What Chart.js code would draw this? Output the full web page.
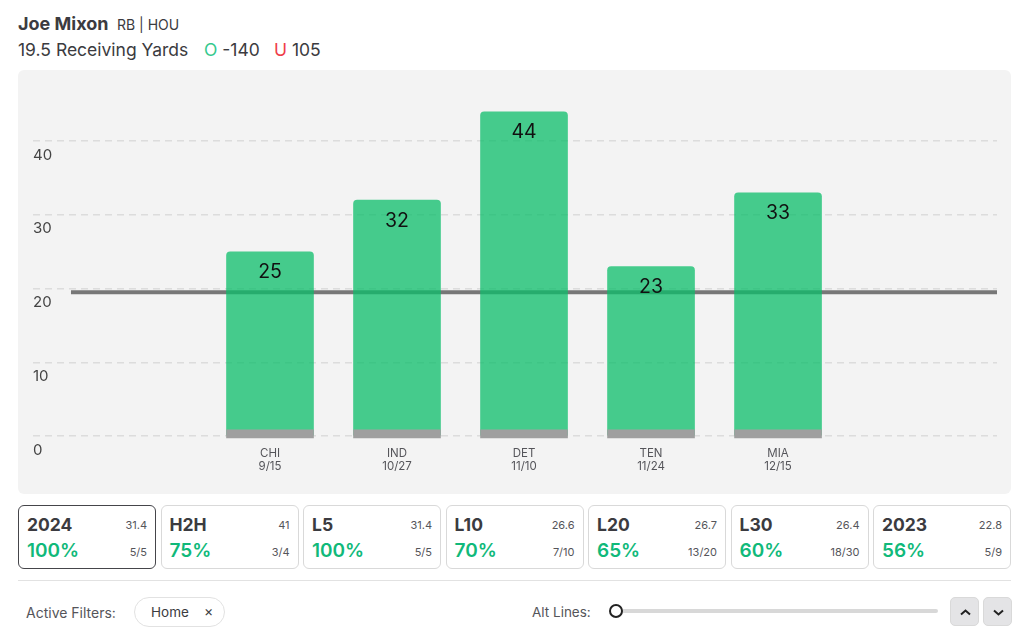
<!DOCTYPE html>
<html>
<head>
<meta charset="utf-8">
<script src="https://cdn.jsdelivr.net/npm/chart.js@4"></script>
<style>
  * { box-sizing: border-box; }
  html, body { margin: 0; height: 100%; background: #fff; overflow: hidden; }
  body { position: relative; width: 1024px; height: 633px; font-family: "Inter", sans-serif; color: #3b3b40; }
  .abs { position: absolute; white-space: nowrap; }
  #panel { position: absolute; left: 18px; top: 70px; width: 993px; height: 424px; background: #f3f3f3; border-radius: 6px; }
  #panel canvas { position: absolute; left: 0; top: 0; }
  #cards { position: absolute; left: 18px; top: 505px; width: 993px; display: flex; gap: 4.5px; }
  .card { position: relative; flex: 1; height: 64px; background: #fff; border: 1.5px solid #d9d9d9; border-radius: 6px; }
  .card.active { border-color: #45454a; }
  .card div { position: absolute; white-space: nowrap; }
  .name { left: 8px; top: 8px; font-size: 17.5px; font-weight: 700; }
  .avg { right: 8px; top: 12px; font-size: 11px; color: #55555a; }
  .pct { left: 8px; top: 33px; font-size: 19px; font-weight: 600; color: #10b97a; }
  .rec { right: 8px; top: 39px; font-size: 11px; color: #55555a; }
  .btn { position: absolute; top: 597px; width: 29px; height: 29px; background: #e4e4e6; border: 1px solid #d9d9d9; border-radius: 5px; }
  .btn svg { position: absolute; left: 8px; top: 9px; }
</style>
</head>
<body>
<div class="abs" style="left:18px;top:13px;font-size:18px;font-weight:700">Joe Mixon</div>
<div class="abs" style="left:117px;top:16px;font-size:14px">RB | HOU</div>
<div class="abs" style="left:18px;top:39px;font-size:17.5px">19.5 Receiving Yards</div>
<div class="abs" style="left:204px;top:39px;font-size:17.5px"><span style="color:#34c98e">O</span> -140</div>
<div class="abs" style="left:274px;top:39px;font-size:17.5px"><span style="color:#ef3e4a">U</span> 105</div>

<div id="panel"><canvas id="chart" width="993" height="424"></canvas></div>
<div id="cards"></div>

<div class="abs" style="left:18px;top:580px;width:993px;height:1px;background:#e2e2e2"></div>
<div class="abs" style="left:26px;top:604px;font-size:14px;color:#55555a">Active Filters:</div>
<div class="abs" style="left:134px;top:597px;width:91px;height:30px;border:1.5px solid #e2e2e2;border-radius:15px"></div>
<div class="abs" style="left:151px;top:604px;font-size:13.5px">Home</div>
<div class="abs" style="left:204px;top:602px;font-size:14px">×</div>
<div class="abs" style="left:532px;top:604px;font-size:13.5px;color:#55555a">Alt Lines:</div>
<div class="abs" style="left:616px;top:609px;width:322px;height:4px;background:#d8d8d8;border-radius:2px"></div>
<div class="abs" style="left:609px;top:604px;width:14px;height:14px;background:#fff;border:2.5px solid #222;border-radius:50%"></div>
<div class="btn" style="left:950px"><svg width="13" height="11" viewBox="0 0 13 11"><path d="M2 7.5 L6.5 3.5 L11 7.5" fill="none" stroke="#222" stroke-width="2"/></svg></div>
<div class="btn" style="left:983px"><svg width="13" height="11" viewBox="0 0 13 11"><path d="M2 3.5 L6.5 7.5 L11 3.5" fill="none" stroke="#222" stroke-width="2"/></svg></div>

<script>
const teams = ["CHI", "IND", "DET", "TEN", "MIA"];
const dates = ["9/15", "10/27", "11/10", "11/24", "12/15"];
const yards = [25, 32, 44, 23, 33];
const yTicks = [0, 10, 20, 30, 40];
const propLine = 19.5;

const cardNames = ["2024", "H2H", "L5", "L10", "L20", "L30", "2023"];
const cardAvgs = ["31.4", "41", "31.4", "26.6", "26.7", "26.4", "22.8"];
const cardPcts = ["100%", "75%", "100%", "70%", "65%", "60%", "56%"];
const cardRecs = ["5/5", "3/4", "5/5", "7/10", "13/20", "18/30", "5/9"];

const cards = document.getElementById("cards");
cardNames.forEach((name, i) => {
  const el = document.createElement("div");
  el.className = i === 0 ? "card active" : "card";
  el.innerHTML = `<div class="name">${name}</div><div class="avg">${cardAvgs[i]}</div>` +
    `<div class="pct">${cardPcts[i]}</div><div class="rec">${cardRecs[i]}</div>`;
  cards.appendChild(el);
});

// bar numbers sit just under the top of each bar
const barValues = {
  id: "barValues",
  afterDatasetsDraw(chart) {
    const ctx = chart.ctx;
    ctx.save();
    ctx.font = "19.5px Inter";
    ctx.fillStyle = "#111";
    ctx.textAlign = "center";
    ctx.textBaseline = "middle";
    chart.getDatasetMeta(0).data.forEach((bar, i) => {
      ctx.fillText(yards[i], bar.x, bar.y + 20.5);
    });
    ctx.restore();
  },
};

new Chart(document.getElementById("chart"), {
  type: "bar",
  data: {
    datasets: [
      {
        data: yards.map((v, i) => ({ x: i, y: v })),
        backgroundColor: "rgba(11, 189, 105, 0.75)",
        barThickness: 87,
        borderRadius: { topLeft: 4, topRight: 4, bottomLeft: 0, bottomRight: 0 },
        borderSkipped: false,
        grouped: false,
        order: 2,
      },
      {
        // grey foot under every bar
        data: yards.map((v, i) => ({ x: i, y: [-0.25, 0.85] })),
        backgroundColor: "#9f9f9f",
        barThickness: 87,
        grouped: false,
        clip: false,
        order: 1,
      },
      {
        type: "line",
        data: [{ x: -1.567, y: propLine }, { x: 5.724, y: propLine }],
        borderColor: "#777",
        borderWidth: 4,
        pointRadius: 0,
        order: 3,
      },
    ],
  },
  options: {
    responsive: false,
    animation: false,
    layout: { padding: { left: 15, right: 14, top: 27, bottom: 0 } },
    plugins: { legend: { display: false }, tooltip: { enabled: false } },
    scales: {
      x: {
        type: "linear",
        offset: false,
        min: -1.866,
        max: 5.724,
        grid: { display: false },
        border: { display: false },
        afterBuildTicks: (scale) => {
          scale.ticks = teams.map((t, i) => ({ value: i }));
        },
        afterFit: (scale) => {
          scale.height = 58;
        },
        ticks: {
          autoSkip: false,
          maxRotation: 0,
          padding: 3,
          color: "#55555a",
          font: { family: "Inter", size: 11.5, lineHeight: 1.15 },
          callback: (value) => [teams[value], dates[value]],
        },
      },
      y: {
        min: 0,
        max: 46,
        afterBuildTicks: (scale) => {
          scale.ticks = yTicks.map((v) => ({ value: v }));
        },
        afterFit: (scale) => {
          scale.width = 0;
        },
        grid: { color: "#dcdcdc", lineWidth: 1.5, drawTicks: false },
        border: { display: false, dash: [7, 5] },
        ticks: {
          mirror: true,
          padding: 0,
          labelOffset: 14,
          color: "#444",
          font: { family: "Inter", size: 15 },
        },
      },
    },
  },
  plugins: [barValues],
});
</script>
</body>
</html>
